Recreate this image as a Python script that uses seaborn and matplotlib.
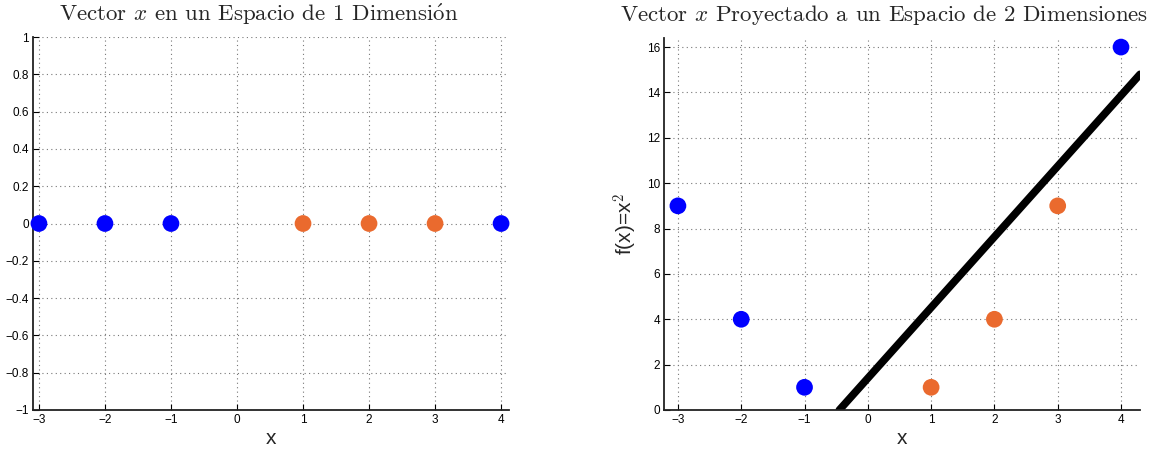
import matplotlib
matplotlib.use("Agg")
import matplotlib.pyplot as plt
import seaborn as sns
import pandas as pd

# ---- data ----
x_vals = [-3, -2, -1, 1, 2, 3, 4]
y_1d = [0, 0, 0, 0, 0, 0, 0]
fx_vals = [9, 4, 1, 1, 4, 9, 16]
classes = ["A", "A", "A", "B", "B", "B", "A"]
line_x = [-0.45, 4.3]
line_y = [0.0, 14.8]
x_ticks = [-3, -2, -1, 0, 1, 2, 3, 4]
y_ticks_left = [-1, -0.8, -0.6, -0.4, -0.2, 0, 0.2, 0.4, 0.6, 0.8, 1]
y_tick_labels_left = ["\u22121", "\u22120.8", "\u22120.6", "\u22120.4", "\u22120.2", "0",
                      "0.2", "0.4", "0.6", "0.8", "1"]
y_ticks_right = [0, 2, 4, 6, 8, 10, 12, 14, 16]
title_left = r"Vector $x$ en un Espacio de 1 Dimensi$\mathrm{\acute{o}}$n"
title_right = r"Vector $x$ Proyectado a un Espacio de 2 Dimensiones"

sns.set_theme(style="white")
plt.rcParams['font.family'] = ['Liberation Sans', 'DejaVu Sans']
plt.rcParams['mathtext.fontset'] = 'cm'
plt.rcParams['axes.unicode_minus'] = True

palette = {"A": "#0000FF", "B": "#EA6A2E"}
df1 = pd.DataFrame({"x": x_vals, "y": y_1d, "c": classes})
df2 = pd.DataFrame({"x": x_vals, "y": fx_vals, "c": classes})
dl = pd.DataFrame({"x": line_x, "y": line_y})

W, H = 1160, 455
fig = plt.figure(figsize=(11.6, 4.55), dpi=100)
ax1 = fig.add_axes([33/W, 1-410/H, (509-33)/W, (410-37)/H])
ax2 = fig.add_axes([664/W, 1-410/H, (1140-664)/W, (410-38)/H])

def style(ax):
    for s in ["top", "right"]:
        ax.spines[s].set_visible(False)
    for s in ["left", "bottom"]:
        ax.spines[s].set_color("#222222")
        ax.spines[s].set_linewidth(1.3)
    ax.grid(True, linestyle=(0, (1, 3)), color="#777777", linewidth=0.8)
    ax.set_axisbelow(True)
    ax.tick_params(direction="in", length=4, width=0.8, labelsize=8.5,
                   colors="black", left=True, bottom=True, pad=3)

sns.scatterplot(data=df1, x="x", y="y", hue="c", palette=palette, s=145,
                edgecolor="none", legend=False, ax=ax1, zorder=3, clip_on=False)
ax1.set_xlim(-3.09, 4.12)
ax1.set_ylim(-1, 1)
ax1.set_xticks(x_ticks)
ax1.set_xticklabels([("\u2212%d" % -t) if t < 0 else str(t) for t in x_ticks])
ax1.set_yticks(y_ticks_left)
ax1.set_yticklabels(y_tick_labels_left)
style(ax1)
ax1.set_xlabel("x", fontsize=15, labelpad=2)
ax1.set_ylabel("")

sns.lineplot(data=dl, x="x", y="y", color="black", linewidth=5.5, ax=ax2, zorder=2)
sns.scatterplot(data=df2, x="x", y="y", hue="c", palette=palette, s=145,
                edgecolor="none", legend=False, ax=ax2, zorder=3, clip_on=False)
ax2.set_xlim(-3.22, 4.3)
ax2.set_ylim(0, 16.4)
ax2.set_xticks(x_ticks)
ax2.set_xticklabels([("\u2212%d" % -t) if t < 0 else str(t) for t in x_ticks])
ax2.set_yticks(y_ticks_right)
style(ax2)
ax2.set_xlabel("x", fontsize=15, labelpad=2)
ax2.set_ylabel(r"f(x)=x$^2$", fontsize=15, labelpad=5)

# titles placed to match reference (left edge, baseline, target width in px)
tfam = ['cmr10', 'DejaVu Serif']
titles = []
for txt, x0, target in [(title_left, 59, 400), (title_right, 620, 529)]:
    t = fig.text(x0/W, 1-21/H, txt, family=tfam, fontsize=14,
                 ha="left", va="baseline")
    titles.append((t, target))
fig.canvas.draw()
r = fig.canvas.get_renderer()
for t, target in titles:
    w = t.get_window_extent(r).width
    t.set_fontsize(14 * target / w)

fig.savefig("out.png", dpi=100)
